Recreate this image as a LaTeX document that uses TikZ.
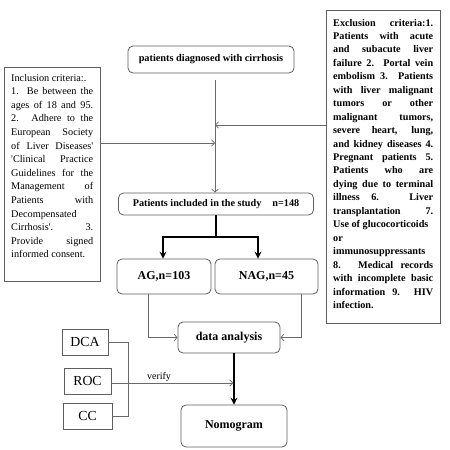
\documentclass[tikz,border=0pt]{standalone}
\usepackage{fontspec}
\setmainfont{Liberation Serif}[Ligatures=TeXOff]
\usetikzlibrary{arrows.meta}
\definecolor{boxline}{RGB}{95,95,95}
\definecolor{connline}{RGB}{105,105,105}
\begin{document}
\begin{tikzpicture}[x=1pt,y=-1pt,
  rbox/.style={draw=boxline,line width=0.8pt,rounded corners=5pt,inner sep=0pt,font=\fontsize{12}{14}\selectfont\bfseries},
  sbox/.style={draw=boxline,line width=0.8pt,inner sep=0pt,font=\fontsize{13.8}{16}\selectfont},
  critbox/.style={draw=boxline,line width=0.8pt,inner sep=0pt},
  crittext/.style={inner sep=0pt,anchor=base west},
  conn/.style={draw=connline,line width=0.7pt},
  thinarrow/.style={conn,-{Straight Barb[length=3pt,width=6.5pt]}},
  thickline/.style={draw=black,line width=1.6pt},
  thickarrow/.style={thickline,-{Stealth[length=7pt,width=7pt,inset=2.5pt]}}]
\useasboundingbox (0,0) rectangle (450,450);
\fill[white] (0,0) rectangle (450,450);

% main boxes
\node[rbox,minimum width=166pt,minimum height=27pt,font=\fontsize{10.3}{12}\selectfont\bfseries] (top) at (211,59.5) {patients diagnosed with cirrhosis};
\node[rbox,minimum width=195pt,minimum height=22pt,font=\fontsize{10.2}{12}\selectfont\bfseries] (incl) at (216,204) {Patients included in the study\hspace{11pt}n=148};
\node[rbox,minimum width=94pt,minimum height=35pt] (AG) at (164,276.5) {AG,n=103};
\node[rbox,minimum width=103pt,minimum height=35pt] (NAG) at (266.5,276.5) {NAG,n=45};
\node[rbox,minimum width=102pt,minimum height=31pt] (data) at (229,337.5) {data analysis};
\node[rbox,minimum width=106pt,minimum height=42pt] (nomo) at (234,426) {Nomogram};

% small boxes
\node[sbox,minimum width=46pt,minimum height=26pt] (DCA) at (85,342) {DCA};
\node[sbox,minimum width=47pt,minimum height=26pt] (ROC) at (87.5,381) {ROC};
\node[sbox,minimum width=49pt,minimum height=26pt] (CC) at (87.5,416) {CC};

% criteria boxes
\node[critbox,minimum width=96pt,minimum height=214pt] (incbox) at (52,174) {};
\node[crittext] (inctext) at (11,81) {\begin{minipage}[t]{82pt}\fontsize{10.25}{13.6}\selectfont
Inclusion criteria:.\\
1. Be between the\linebreak
ages of 18 and 95.\linebreak
2. Adhere to the\linebreak
European Society\linebreak
of Liver Diseases'\linebreak
'Clinical Practice\linebreak
Guidelines for the\linebreak
Management of\linebreak
Patients with\linebreak
Decompensated\\
Cirrhosis'. 3.\linebreak
Provide signed\linebreak
informed consent.
\end{minipage}};

\node[critbox,minimum width=114pt,minimum height=313pt] (excbox) at (383,166.5) {};
\node[crittext] (exctext) at (333,26) {\begin{minipage}[t]{100pt}\fontsize{10.2}{13.45}\selectfont\bfseries
Exclusion criteria:1.\linebreak
Patients with acute\linebreak
and subacute liver\linebreak
failure 2.\ \ Portal vein\linebreak
embolism 3.\ \ Patients\linebreak
with liver malignant\linebreak
tumors or other\linebreak
malignant tumors,\linebreak
severe heart, lung,\linebreak
and kidney diseases 4.\linebreak
Pregnant patients 5.\linebreak
Patients who are\linebreak
dying due to terminal\linebreak
illness 6. Liver\linebreak
transplantation 7.\linebreak
Use of glucocorticoids\\
or\\
immunosuppressants\\
8. Medical records\linebreak
with incomplete basic\linebreak
information 9.\ \ HIV\linebreak
infection.
\end{minipage}};

% connectors
\coordinate (vstart) at (215,80);
\coordinate (excA) at (326,125);
\coordinate (incA) at (100,143);
\draw[thinarrow] (vstart) -- (vstart |- incl.north);
\draw[thinarrow] (excA) -- (excA -| vstart);
\draw[thinarrow] (incA) -- (incA -| vstart);

\coordinate (split) at (216,237);
\draw[thickline] (incl.south) -- (split);
\draw[thickarrow] (split) -| ([xshift=-1pt]AG.north);
\draw[thickarrow] (split) -| ([xshift=-8.5pt]NAG.north);

\draw[thinarrow] ([xshift=-16pt]AG.south) |- (data.west);
\draw[thinarrow] ([xshift=34.5pt]NAG.south) |- (data.east);
\draw[thickarrow] (data.south -| nomo.north) -- (nomo.north);

\coordinate (bx) at (128,383);
\draw[conn] (DCA.east) -- (DCA.east -| bx) -- (CC.east -| bx) -- (CC.east);
\draw[conn] (bx -| ROC.east) -- (bx);
\draw[thinarrow] (bx) -- ([xshift=-0.8pt]bx -| nomo.north);
\node[font=\fontsize{10}{12}\selectfont,inner sep=0pt] (verify) at (159,377.5) {verify};
\end{tikzpicture}
\end{document}
